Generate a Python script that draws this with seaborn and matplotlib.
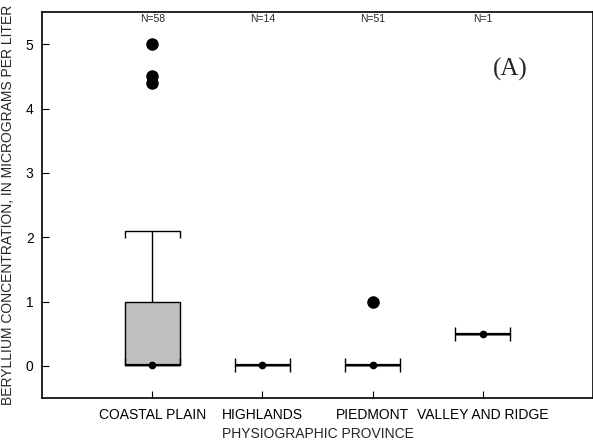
import numpy as np
import pandas as pd
import matplotlib
matplotlib.use("Agg")
import matplotlib.pyplot as plt
import matplotlib.transforms as mtransforms
import seaborn as sns

#Provinces and the concentration values (value, count)
provinces = ["COASTAL PLAIN", "HIGHLANDS", "PIEDMONT", "VALLEY AND RIDGE"]

coastal_values = [0.02, 0.1, 0.2, 0.3, 0.5, 0.7, 0.9, 1.0, 1.5, 2.0, 2.1, 4.4, 4.5, 5.0]
coastal_counts = [30, 2, 2, 2, 2, 2, 2, 10, 1, 1, 1, 1, 1, 1]
highlands_values = [0.02]
highlands_counts = [14]
piedmont_values = [0.02, 1.0]
piedmont_counts = [50, 1]
valley_values = [0.5]
valley_counts = [1]

n_labels = ["N=58", "N=14", "N=51", "N=1"]

#Builds the long table for seaborn
rows = []
for name, vals, cnts in zip(provinces,
                            [coastal_values, highlands_values, piedmont_values, valley_values],
                            [coastal_counts, highlands_counts, piedmont_counts, valley_counts]):
    for v in np.repeat(vals, cnts):
        rows.append({"province": name, "conc": v})
df = pd.DataFrame(rows)

sns.set_style("ticks")
plt.rcParams["font.family"] = ["Liberation Sans", "DejaVu Sans"]

fig = plt.figure(figsize=(5.93, 4.46), dpi=100)
ax = fig.add_axes([0.0708, 0.1076, 0.9292, 0.8655])

sns.boxplot(data=df, x="province", y="conc", order=provinces, ax=ax,
            color="#c0c0c0", saturation=1, width=0.5, linecolor="black", linewidth=1,
            whis=1.5, capwidths=0.5,
            flierprops=dict(marker="o", markerfacecolor="black", markeredgecolor="black",
                            markersize=8),
            medianprops=dict(color="black", linewidth=1.6))

#Caps drawn as brackets: ticks point back toward the box
for c in ax.containers:
    caps = getattr(c, "caps", None)
    if caps is None:
        continue
    for j, cap in enumerate(caps):
        cap.set_marker(2 if j % 2 == 0 else 3)
        cap.set_markersize(5)
        cap.set_markeredgewidth(1)
        cap.set_markeredgecolor("black")

#Median dots
sns.pointplot(data=df, x="province", y="conc", order=provinces, ax=ax,
              estimator="median", errorbar=None, linestyle="none",
              color="black", markers="o", markersize=3.5)

ax.set_xlim(-1, 4)
ax.set_ylim(-0.5, 5.5)
ax.set_yticks([0, 1, 2, 3, 4, 5])
ax.tick_params(direction="in", length=5, width=0.8, labelsize=10, colors="black")
ax.tick_params(axis="x", pad=7)
ax.tick_params(axis="y", pad=6)
ax.set_xlabel("PHYSIOGRAPHIC PROVINCE", fontsize=10, labelpad=4)
ax.set_ylabel("BERYLLIUM CONCENTRATION, IN MICROGRAMS PER LITER", fontsize=10, labelpad=8)
for s in ax.spines.values():
    s.set_linewidth(1.2)
    s.set_color("black")

#N counts along the top
trans = mtransforms.blended_transform_factory(ax.transData, ax.transAxes)
for i, lab in enumerate(n_labels):
    ax.text(i, 0.981, lab, transform=trans, ha="center", va="center", fontsize=7.5)

ax.text(0.85, 0.852, "(A)", transform=ax.transAxes, ha="center", va="center",
        fontsize=18, family="Liberation Serif")

fig.savefig("out.png", dpi=100)
